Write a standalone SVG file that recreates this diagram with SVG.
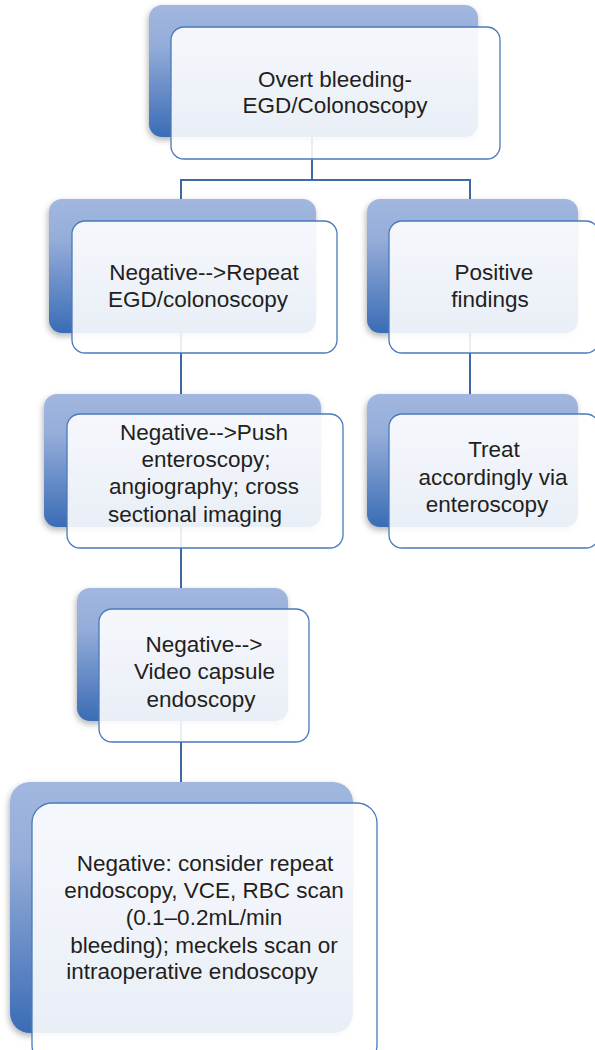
<svg xmlns="http://www.w3.org/2000/svg" width="595" height="1050" viewBox="0 0 595 1050">
<defs>
<linearGradient id="backGrad" x1="0" y1="0" x2="0" y2="1">
<stop offset="0" stop-color="#a1b7df"/>
<stop offset="0.3" stop-color="#95add9"/>
<stop offset="1" stop-color="#3a6cb5"/>
</linearGradient>
<filter id="shadow" x="-10%" y="-10%" width="125%" height="125%">
<feDropShadow dx="-1" dy="3" stdDeviation="3" flood-color="#000" flood-opacity="0.3"/>
</filter>
</defs>
<style>
.back{fill:url(#backGrad);filter:url(#shadow);}
.front{fill:#ffffff;fill-opacity:0.89;stroke:#4a7aba;stroke-width:1.3;}
.conn{fill:none;stroke:#3d6aa6;stroke-width:2;}
text{font-family:"Liberation Sans",Arial,sans-serif;font-size:22.5px;fill:#231f20;text-anchor:middle;}
</style>
<rect width="595" height="1050" fill="#ffffff"/>
<g id="connectors">
<path class="conn" d="M312,137 V180"/>
<path class="conn" d="M181,180 H470"/>
<path class="conn" d="M181,179 V199"/>
<path class="conn" d="M470,179 V199"/>
<path class="conn" d="M181,333 V394"/>
<path class="conn" d="M470,333 V394"/>
<path class="conn" d="M181,527 V588"/>
<path class="conn" d="M181,721 V782"/>
</g>
<g id="node-overt">
<rect class="back" x="149" y="5" width="329" height="132" rx="13"/>
<rect class="front" x="171" y="27" width="329" height="132" rx="13"/>
<text x="335" y="87">Overt bleeding-</text>
<text x="335" y="113">EGD/Colonoscopy</text>
</g>
<g id="node-repeat">
<rect class="back" x="49" y="199" width="267" height="134" rx="13"/>
<rect class="front" x="72" y="221" width="265" height="132" rx="13"/>
<text x="204" y="280">Negative--&gt;Repeat</text>
<text x="198" y="307">EGD/colonoscopy</text>
</g>
<g id="node-positive">
<rect class="back" x="367" y="199" width="211" height="134" rx="13"/>
<rect class="front" x="389" y="221" width="210" height="132" rx="13"/>
<text x="494" y="280">Positive</text>
<text x="490" y="307">findings</text>
</g>
<g id="node-push">
<rect class="back" x="44" y="394" width="277" height="133" rx="13"/>
<rect class="front" x="67" y="414" width="276" height="134" rx="13"/>
<text x="204" y="440">Negative--&gt;Push</text>
<text x="206" y="467">enteroscopy;</text>
<text x="204" y="494">angiography; cross</text>
<text x="195" y="522">sectional imaging</text>
</g>
<g id="node-treat">
<rect class="back" x="367" y="394" width="211" height="133" rx="13"/>
<rect class="front" x="389" y="414" width="210" height="134" rx="13"/>
<text x="494" y="457">Treat</text>
<text x="493" y="485">accordingly via</text>
<text x="487" y="512">enteroscopy</text>
</g>
<g id="node-capsule">
<rect class="back" x="77" y="588" width="211" height="133" rx="13"/>
<rect class="front" x="99" y="609" width="210" height="133" rx="13"/>
<text x="204" y="652">Negative--&gt;</text>
<text x="204.5" y="679">Video capsule</text>
<text x="201" y="707">endoscopy</text>
</g>
<g id="node-consider">
<rect class="back" x="10" y="782" width="343" height="251" rx="20"/>
<rect class="front" x="32" y="803" width="345" height="262" rx="20"/>
<text x="205" y="871">Negative: consider repeat</text>
<text x="204" y="898">endoscopy, VCE, RBC scan</text>
<text x="204" y="925">(0.1–0.2mL/min</text>
<text x="204" y="953">bleeding); meckels scan or</text>
<text x="192" y="979">intraoperative endoscopy</text>
</g>
</svg>
